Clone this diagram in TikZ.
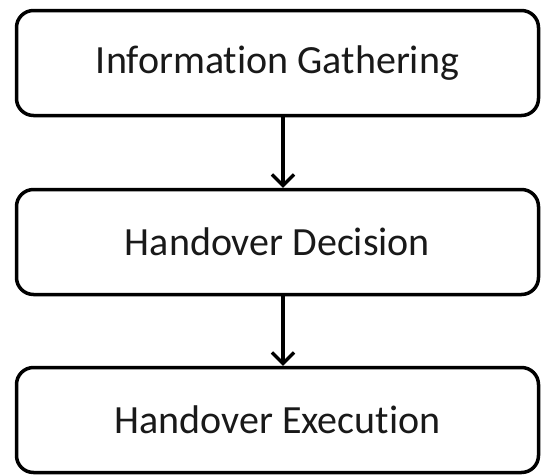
\documentclass[tikz,border=0pt]{standalone}
\usepackage{fontspec}
\setmainfont[Ligatures=NoCommon]{Carlito}
\usetikzlibrary{arrows.meta}
\begin{document}
\begin{tikzpicture}[x=1pt,y=-1pt,
  stagebox/.style={draw=black, line width=3.5pt, rounded corners=17pt, fill=white,
    minimum width=522pt, minimum height=105pt, inner sep=0pt,
    font=\fontsize{40}{48}\selectfont, text=black!90},
  flow/.style={line width=3.2pt, -{Straight Barb[length=11pt,width=22pt,line width=3.2pt]}}]
\useasboundingbox (0,0) rectangle (542,475);
\node[stagebox] (a) at (277.5,63) {Information Gathering};
\node[stagebox] (b) at (277.5,242) {Handover Decision};
\node[stagebox] (c) at (277.5,420) {Handover Execution};
\draw[flow] ([xshift=5.5pt]a.south) -- ([xshift=5.5pt]b.north);
\draw[flow] ([xshift=5.5pt]b.south) -- ([xshift=5.5pt]c.north);
\end{tikzpicture}
\end{document}
